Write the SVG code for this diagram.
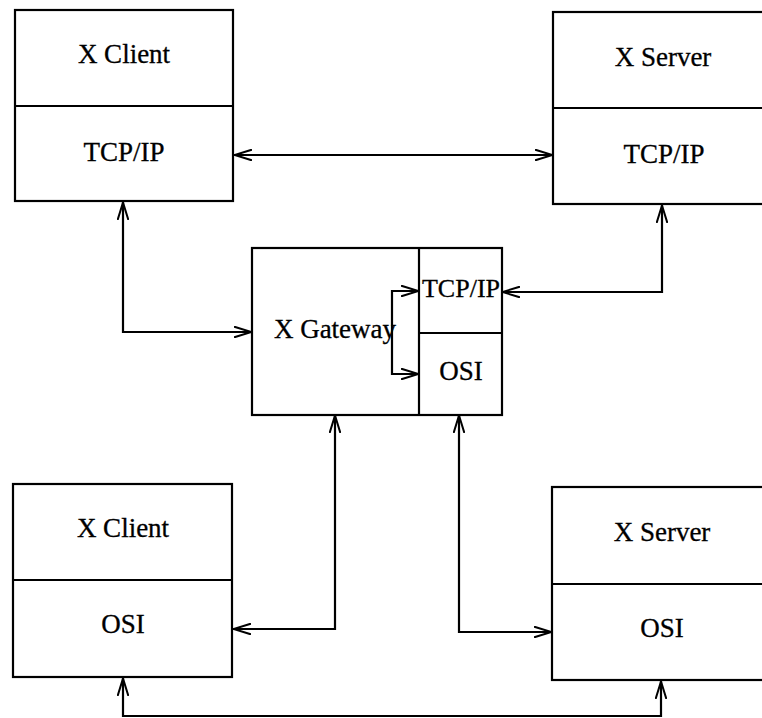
<svg xmlns="http://www.w3.org/2000/svg" width="762" height="718" viewBox="0 0 762 718">
<style>
.box{fill:none;stroke:#000;stroke-width:2.2}
.lbl{font-family:"Liberation Serif","Times New Roman",serif;font-size:27px;fill:#000;text-anchor:middle;stroke:#000;stroke-width:0.3}
.conn path{fill:none;stroke:#000;stroke-width:2.2;marker-start:url(#ah);marker-end:url(#ah)}
</style>
<defs>
<marker id="ah" viewBox="0 0 19 12" refX="18" refY="6" markerWidth="19" markerHeight="12" markerUnits="userSpaceOnUse" orient="auto-start-reverse">
<path d="M0,0.6 L17.5,6 L0,11.4" fill="none" stroke="#000" stroke-width="2"/>
</marker>
</defs>
<rect width="762" height="718" fill="#fff"/>
<g id="client-tcp">
<rect class="box" x="15" y="10" width="218" height="191"/>
<line class="box" x1="15" y1="106" x2="233" y2="106"/>
<text class="lbl" x="124" y="63">X Client</text>
<text class="lbl" x="124" y="161">TCP/IP</text>
</g>
<g id="server-tcp">
<rect class="box" x="553" y="12" width="230" height="192"/>
<line class="box" x1="553" y1="108" x2="783" y2="108"/>
<text class="lbl" x="663" y="66">X Server</text>
<text class="lbl" x="664" y="163">TCP/IP</text>
</g>
<g id="gateway">
<rect class="box" x="252" y="248" width="250" height="167"/>
<line class="box" x1="419" y1="248" x2="419" y2="415"/>
<line class="box" x1="419" y1="333" x2="502" y2="333"/>
<text class="lbl" x="335" y="338">X Gateway</text>
<text class="lbl" x="461" y="297" style="font-size:26px">TCP/IP</text>
<text class="lbl" x="461" y="380">OSI</text>
</g>
<g id="client-osi">
<rect class="box" x="13" y="484" width="219" height="193"/>
<line class="box" x1="13" y1="580" x2="232" y2="580"/>
<text class="lbl" x="123" y="537">X Client</text>
<text class="lbl" x="123" y="633">OSI</text>
</g>
<g id="server-osi">
<rect class="box" x="552" y="487" width="230" height="193"/>
<line class="box" x1="552" y1="584" x2="782" y2="584"/>
<text class="lbl" x="662" y="541">X Server</text>
<text class="lbl" x="662" y="637">OSI</text>
</g>
<g id="connectors" class="conn">
<path d="M234,155 L553,155"/>
<path d="M123,202 L123,332 L252,332"/>
<path d="M502,292 L662,292 L662,205"/>
<path d="M419,291 L392,291 L392,374 L419,374"/>
<path d="M335,415 L335,629 L233,629"/>
<path d="M459,415 L459,632 L552,632"/>
<path d="M123,678 L123,716 L661,716 L661,681"/>
</g>
</svg>
